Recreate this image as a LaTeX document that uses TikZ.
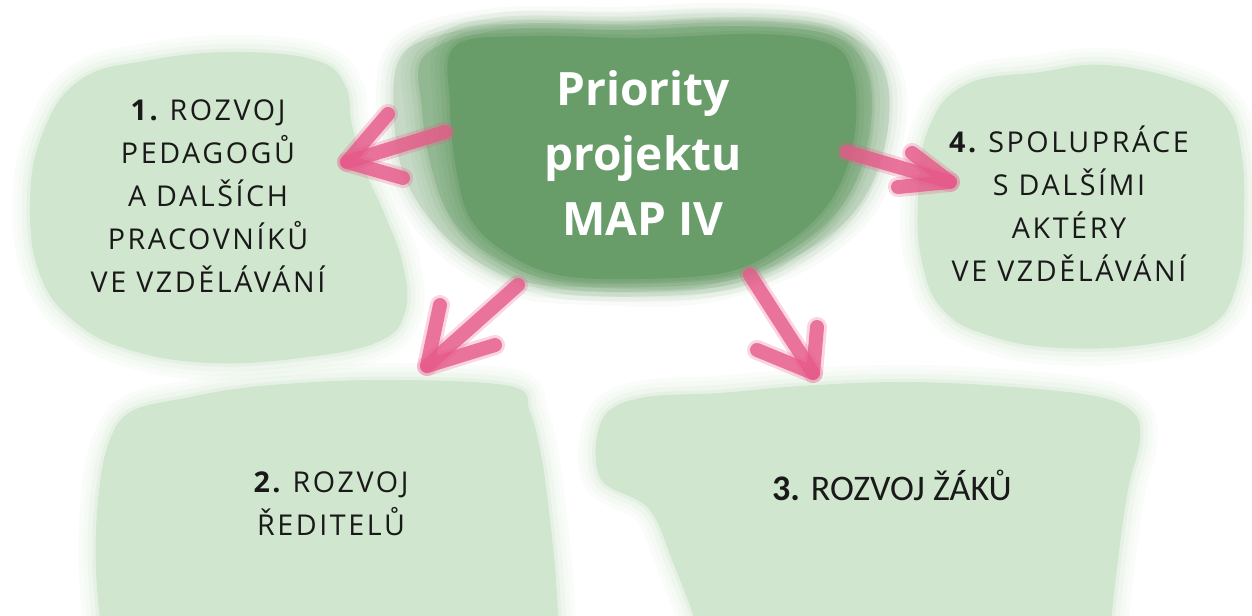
\documentclass[tikz,border=0pt]{standalone}
\usepackage{fontspec}
\setmainfont{Open Sans}
\newfontfamily\itemfont{Open Sans}[LetterSpace=9]
\newfontfamily\narrowfont{Carlito}
\usepackage{tikz}
\usetikzlibrary{positioning}
\definecolor{blobgreen}{RGB}{208,230,206}
\definecolor{coregreen}{RGB}{104,156,104}
\definecolor{brushpink}{RGB}{230,90,138}
\definecolor{textblack}{RGB}{25,25,25}

\begin{document}
\begin{tikzpicture}[x=0.75pt,y=0.75pt,yscale=-1,xscale=1,
  wash/.style={fill=#1, line join=round,
    preaction={draw=#1, line width=26pt, draw opacity=0.1, line join=round},
    preaction={draw=#1, line width=19pt, draw opacity=0.13, line join=round},
    preaction={draw=#1, line width=12pt, draw opacity=0.18, line join=round},
    preaction={draw=#1, line width=5pt, draw opacity=0.3, line join=round}},
  brush/.style={draw=brushpink, line width=10.5pt, line cap=round, line join=round, draw opacity=0.8,
    preaction={draw=brushpink, line width=15pt, line cap=round, line join=round, draw opacity=0.25}},
  itemtext/.style={text=textblack, align=center, inner sep=0pt, font=\itemfont\fontsize{21.5}{32.25}\selectfont},
  centertext/.style={text=white, align=center, inner sep=0pt, font=\bfseries\fontsize{34.5}{48.75}\selectfont}]
\useasboundingbox (0,0) rectangle (1252,616);
\clip (0,0) rectangle (1252,616);

%Shape: Blob 1
\path [wash=blobgreen] plot [smooth cycle, tension=0.7] coordinates {(80,80) (150,60) (235,52) (315,60) (345,85) (352,125) (365,170) (385,215) (403,265) (405,312) (378,342) (300,358) (210,363) (130,350) (75,322) (40,275) (30,205) (42,135)};
%Shape: Blob 4
\path [wash=blobgreen] plot [smooth cycle, tension=0.7] coordinates {(965,85) (1040,72) (1105,65) (1180,80) (1225,105) (1241,150) (1244,215) (1238,280) (1212,325) (1150,344) (1060,348) (990,336) (943,310) (922,262) (918,200) (928,130)};
%Shape: Blob 2
\path [wash=blobgreen] plot [smooth cycle, tension=0.6] coordinates {(130,412) (185,398) (260,386) (380,380) (510,386) (530,412) (542,460) (550,520) (556,580) (560,660) (560,720) (110,720) (104,660) (96,570) (98,500) (108,445)};
%Shape: Blob 3
\path [wash=blobgreen] plot [smooth cycle, tension=0.6] coordinates {(602,420) (640,398) (720,393) (800,386) (900,382) (1000,386) (1095,396) (1133,412) (1140,440) (1128,490) (1118,560) (1110,640) (1110,720) (705,720) (700,640) (672,560) (648,508) (600,478)};
%Shape: Centre blob
\path [wash=coregreen!38!white] plot [smooth cycle, tension=0.6] coordinates {(398,62) (430,38) (510,24) (620,24) (720,20) (820,26) (868,48) (888,85) (886,140) (866,195) (830,235) (770,268) (690,288) (600,288) (525,282) (472,258) (432,222) (404,175) (394,120)};
\path [wash=coregreen!72!white] plot [smooth cycle, tension=0.6] coordinates {(425,55) (500,30) (620,30) (720,26) (820,32) (860,56) (872,100) (864,160) (840,208) (798,246) (735,276) (640,284) (552,280) (492,256) (452,220) (432,170) (422,110)};
\path [wash=coregreen] plot [smooth cycle, tension=0.6] coordinates {(455,46) (530,36) (640,38) (760,34) (830,44) (852,72) (856,120) (846,170) (822,212) (782,246) (728,272) (640,279) (558,275) (505,252) (470,218) (456,168) (450,105)};

% Arrow points
\coordinate (a1from) at (445,132);
\coordinate (a1tip) at (347,162);
\coordinate (a1up) at (388,114);
\coordinate (a1lo) at (403,178);
\coordinate (a2from) at (518,285);
\coordinate (a2tip) at (427,366);
\coordinate (a2up) at (440,305);
\coordinate (a2lo) at (495,345);
\coordinate (a3from) at (750,275);
\coordinate (a3tip) at (813,373);
\coordinate (a3up) at (817,327);
\coordinate (a3lo) at (757,350);
\coordinate (a4from) at (847,152);
\coordinate (a4tip) at (950,182);
\coordinate (a4up) at (912,153);
\coordinate (a4lo) at (898,187);

% Brush arrows
\draw [brush] (a1from) -- (a1tip);
\draw [brush] (a1up) -- (a1tip) -- (a1lo);
\draw [brush] (a2from) -- (a2tip);
\draw [brush] (a2up) -- (a2tip) -- (a2lo);
\draw [brush] (a3from) -- (a3tip);
\draw [brush] (a3up) -- (a3tip) -- (a3lo);
\draw [brush] (a4from) -- (a4tip);
\draw [brush] (a4up) -- (a4tip) -- (a4lo);

% Text Node
\node (centre) at (643,153) [centertext] {Priority\\projektu\\MAP IV};
% Text Node
\node (item1) at (208,196) [itemtext] {\textbf{1.}\kern-3pt{} ROZVOJ\\PEDAGOGŮ\\A DALŠÍCH\\PRACOVNÍKŮ\\VE VZDĚLÁVÁNÍ};
% Text Node
\node (item2) at (331,504) [itemtext] {\textbf{2.}\kern-3pt{} ROZVOJ\\ŘEDITELŮ};
% Text Node
\node (item3) at (892,500) [anchor=base, text=textblack, inner sep=0pt, font=\narrowfont\fontsize{27}{32}\selectfont] {\textbf{3.} ROZVOJ ŽÁKŮ};
% Text Node
\node (item4) at (1069,204) [itemtext] {\textbf{4.}\kern-3pt{} SPOLUPRÁCE\\S DALŠÍMI\\AKTÉRY\\VE VZDĚLÁVÁNÍ};

\end{tikzpicture}
\end{document}
